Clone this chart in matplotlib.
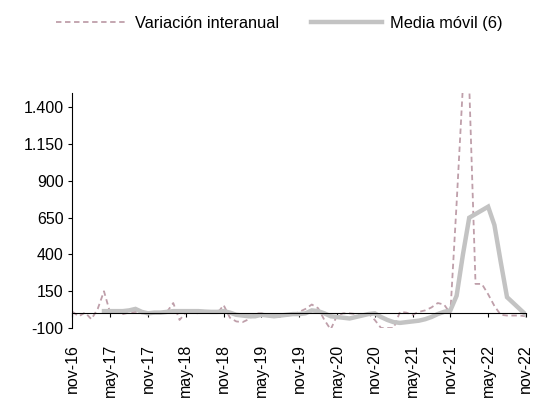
import numpy as np
import matplotlib
matplotlib.use("Agg")
import matplotlib.pyplot as plt
from matplotlib.ticker import FuncFormatter

plt.rcParams["font.family"] = ["Liberation Sans", "DejaVu Sans"]

# months from nov-16 to nov-22
tick_labels = ["nov-16", "may-17", "nov-17", "may-18", "nov-18", "may-19", "nov-19",
               "may-20", "nov-20", "may-21", "nov-21", "may-22", "nov-22"]

variacion = [10, -20, 5, -40, 30, 150, 0, 5, -5, 5,
             10, 0, 5, 0, 5, 10, 70, -45, 5, 5,
             0, 5, 10, 0, 56, -30, -55, -60, -40, 0,
             0, -10, -20, -25, -15, -10, 10, 30, 60, 35,
             -45, -110, -15, 0, 0, -5, -5, 0, -45, -100,
             -100, -100, 10, 5, -10, 10, 20, 40, 70, 60,
             0, 750, 1550, 1550, 200, 200, 130, 50, -10, -15,
             -15, -15, -20]

# moving average starts at the 6th month
media_movil = [15, 15, 15, 15, 20, 30, 10, 0, 5, 5,
               10, 15, 15, 15, 15, 15, 12, 10, 10, 15,
               5, -10, -15, -20, -20, -10, -15, -20, -15, -10,
               -5, -5, 0, 20, 15, 0, -20, -25, -30, -35,
               -25, -15, -5, 0, -25, -45, -60, -65, -60, -55,
               -50, -40, -25, -5, 10, 20, 120, 400, 650, 675,
               700, 725, 600, 350, 110, 70, 30, -10]

x_var = np.arange(len(variacion))
x_ma = np.arange(len(variacion) - len(media_movil), len(variacion))

fig = plt.figure(figsize=(5.35, 4.03), dpi=100)
ax = fig.add_axes([0.1355, 0.186, 0.983 - 0.1355, 0.770 - 0.186])

ax.plot(x_var, variacion, color="#bf9faa", lw=1.3, ls=(0, (3, 2)), label="Variación interanual")
ax.plot(x_ma, media_movil, color="#c3c3c3", lw=3.2, label="Media móvil (6)", solid_joinstyle="miter")

for s in ["top", "right"]:
    ax.spines[s].set_visible(False)
ax.spines["bottom"].set_position(("data", 0))

ax.set_xlim(0, 72)
ax.set_ylim(-100, 1500)
ax.set_yticks(np.arange(-100, 1401, 250))
ax.yaxis.set_major_formatter(FuncFormatter(lambda v, p: f"{int(v):,}".replace(",", ".")))
ax.set_xticks(np.arange(0, 73, 6))
ax.set_xticklabels(tick_labels)
ax.tick_params(axis="x", direction="out", length=3, width=0.8, pad=19, labelsize=11.5,
               labelrotation=90)
ax.tick_params(axis="y", direction="out", length=3, width=0.8, labelsize=11.5)

fig.legend(loc="upper center", bbox_to_anchor=(0.522, 0.997), ncol=2, frameon=False,
           handlelength=4.3, handletextpad=0.5, columnspacing=2.0, fontsize=11.8)

fig.savefig("out.png", dpi=100)
